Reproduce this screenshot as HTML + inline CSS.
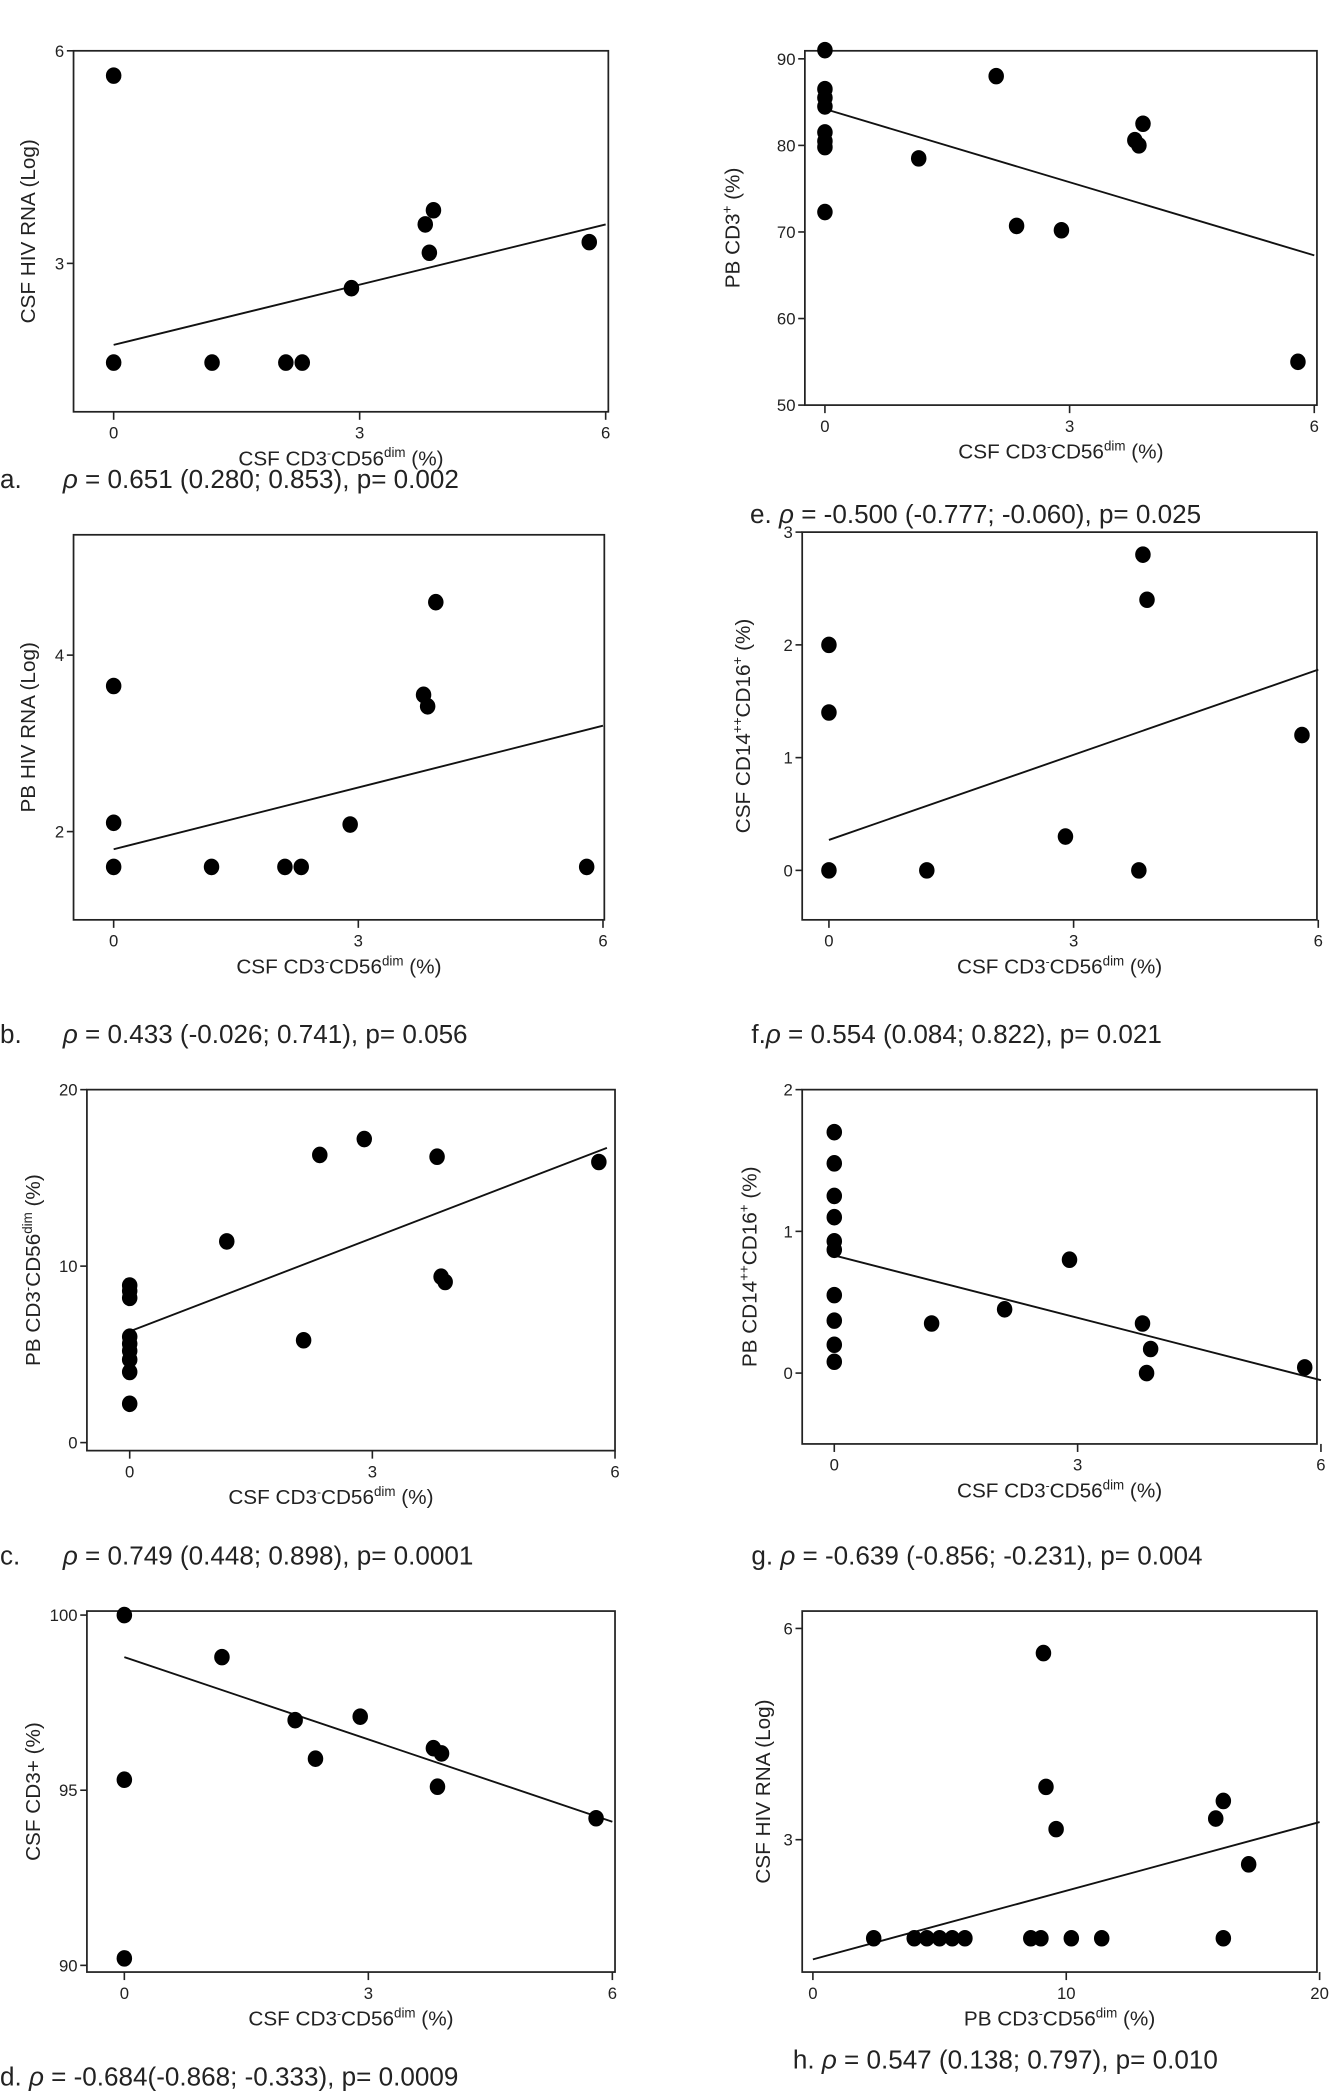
<!DOCTYPE html>
<html><head><meta charset="utf-8"><style>
html,body{margin:0;padding:0;background:#fff}
svg{display:block}
text{font-family:"Liberation Sans",sans-serif;fill:#222}
</style></head><body>
<svg id="fig" width="1337" height="2100" viewBox="0 0 1000 1570.7" xmlns="http://www.w3.org/2000/svg"></svg>
<script>
// Panel a
const aX=[0,0,1.2,2.1,2.3,2.9,3.8,3.9,3.85,5.8];
const aY=[5.65,1.6,1.6,1.6,1.6,2.65,3.55,3.75,3.15,3.3];
const aFit=[1.85,3.55];
// Panel e
const eX=[0,0,0,0,0,0,0,0,1.15,2.1,2.35,2.9,3.8,3.85,3.9,5.8];
const eY=[91,86.5,85.5,84.5,81.5,80.5,79.8,72.3,78.5,88,70.7,70.2,80.6,80,82.5,55];
const eFit=[84.2,67.3];
// Panel b
const bX=[0,0,0,1.2,2.1,2.3,2.9,3.8,3.85,3.95,5.8];
const bY=[3.65,2.1,1.6,1.6,1.6,1.6,2.08,3.55,3.42,4.6,1.6];
const bFit=[1.8,3.2];
// Panel f
const fX=[0,0,0,1.2,2.9,3.8,3.85,3.9,5.8];
const fY=[2.0,1.4,0,0,0.3,0,2.8,2.4,1.2];
const fFit=[0.27,1.78];
// Panel c
const cX=[0,0,0,0,0,0,0,0,0,1.2,2.15,2.35,2.9,3.8,3.85,3.9,5.8];
const cY=[8.9,8.6,8.2,6,5.6,5.2,4.7,4,2.2,11.4,5.8,16.3,17.2,16.2,9.4,9.1,15.9];
const cFit=[6.3,16.7];
// Panel g
const gX=[0,0,0,0,0,0,0,0,0,0,1.2,2.1,2.9,3.8,3.9,3.85,5.8];
const gY=[1.7,1.48,1.25,1.1,0.93,0.87,0.55,0.37,0.2,0.08,0.35,0.45,0.8,0.35,0.17,0,0.04];
const gFit=[0.83,-0.05];
// Panel d
const dX=[0,0,0,1.2,2.1,2.35,2.9,3.8,3.9,3.85,5.8];
const dY=[100,95.3,90.2,98.8,97,95.9,97.1,96.2,96.05,95.1,94.2];
const dFit=[98.8,94.1];
// Panel h
const hX=[2.4,4,4.5,5,5.5,6,8.6,9,10.2,11.4,16.2,9.1,9.2,9.6,15.9,16.2,17.2];
const hY=[1.6,1.6,1.6,1.6,1.6,1.6,1.6,1.6,1.6,1.6,1.6,5.65,3.75,3.15,3.3,3.55,2.65];
const hFit=[1.3,3.25];
const xTicksA=["0","3","6"], xTicksH=["0","10","20"];

const svg=document.getElementById('fig');
const NS='http://www.w3.org/2000/svg';
function el(t,a,p){const e=document.createElementNS(NS,t);for(const k in a)e.setAttribute(k,a[k]);(p||svg).appendChild(e);return e;}

function panel(cfg){
  const g=el('g',{});
  
  
  const sx=v=>cfg.px0+(v-cfg.x0)*(cfg.px1-cfg.px0)/(cfg.x1-cfg.x0);
  const sy=v=>cfg.py0+(v-cfg.y0)*(cfg.py1-cfg.py0)/(cfg.y1-cfg.y0);
  const fr=el('rect',{x:cfg.bx,y:cfg.by,width:cfg.bw,height:cfg.bh,fill:'none',stroke:'#222','stroke-width':1.3},g);
  
  
  cfg.xt.forEach((t,i)=>{const x=sx(cfg.xv[i]);
    el('line',{x1:x,x2:x,y1:cfg.by+cfg.bh,y2:cfg.by+cfg.bh+6,stroke:'#222','stroke-width':1.2},g);
    const tx=el('text',{x:x,y:cfg.by+cfg.bh+20,'font-size':12.5,'text-anchor':'middle'},g);tx.textContent=t;
    
    });
  cfg.yt.forEach(v=>{const y=sy(v);
    el('line',{x1:cfg.bx-5,x2:cfg.bx,y1:y,y2:y,stroke:'#222','stroke-width':1.2},g);
    const tx=el('text',{x:cfg.bx-7,y:y+4.5,'font-size':12.5,'text-anchor':'end'},g);tx.textContent=v;
    
    });
  const xl=el('text',{x:cfg.bx+cfg.bw/2+cfg.xlo,y:cfg.by+cfg.bh+40,'font-size':15.5,'text-anchor':'middle'},g);
  xl.innerHTML=cfg.xlab;
  
  
  const yc=cfg.by+cfg.bh/2;
  const yl=el('text',{x:cfg.ylx,y:yc,'font-size':15.5,'text-anchor':'middle',transform:`rotate(-90 ${cfg.ylx} ${yc})`},g);
  yl.innerHTML=cfg.ylab;
  
  
  const ln=el('line',{x1:sx(0),y1:sy(cfg.fit[0]),x2:sx(cfg.fitX),y2:sy(cfg.fit[1]),stroke:'#111','stroke-width':1.4},g);
  
  
  cfg.X.forEach((x,i)=>{const c=el('ellipse',{cx:sx(x),cy:sy(cfg.Y[i]),rx:5.8,ry:6.2,fill:'#000'},g);
    
    });
  const cap=el('text',{x:cfg.capx,y:cfg.capy,'font-size':19.5},g);
  cap.innerHTML=cfg.cap;
  
  
}
const XL='CSF CD3<tspan font-size="9" dy="-6">-</tspan><tspan dy="6">CD56</tspan><tspan font-size="10" dy="-6">dim</tspan><tspan dy="6"> (%)</tspan>';
const R='<tspan font-style="italic">ρ</tspan>';
panel({id:'a',X:aX,Y:aY,fit:aFit,fitX:6,x0:0,x1:6,px0:85,px1:453,y0:6,y1:3,py0:38,py1:197,bx:55,by:38,bw:400,bh:270,
 xt:xTicksA,xv:[0,3,6],yt:[6,3],xlab:XL,xlo:0,ylab:'CSF HIV RNA (Log)',ylx:26,cap:'a.<tspan x="47">'+R+' = 0.651 (0.280; 0.853), p= 0.002</tspan>',capx:0,capy:365});
panel({id:'e',X:eX,Y:eY,fit:eFit,fitX:6,x0:0,x1:6,px0:617,px1:983,y0:90,y1:50,py0:44,py1:303,bx:602,by:38,bw:383,bh:265,
 xt:xTicksA,xv:[0,3,6],yt:[90,80,70,60,50],xlab:XL,xlo:0,ylab:'PB CD3<tspan font-size="10" dy="-6">+</tspan><tspan dy="6"> (%)</tspan>',ylx:553,cap:'e.  '+R+' = -0.500 (-0.777; -0.060), p= 0.025',capx:561,capy:391});
panel({id:'b',X:bX,Y:bY,fit:bFit,fitX:6,x0:0,x1:6,px0:85,px1:451,y0:4,y1:2,py0:490,py1:622,bx:55,by:400,bw:397,bh:288,
 xt:xTicksA,xv:[0,3,6],yt:[4,2],xlab:XL,xlo:0,ylab:'PB HIV RNA (Log)',ylx:26,cap:'b.<tspan x="47">'+R+' = 0.433 (-0.026; 0.741), p= 0.056</tspan>',capx:0,capy:780});
panel({id:'f',X:fX,Y:fY,fit:fFit,fitX:6,x0:0,x1:6,px0:620,px1:986,y0:3,y1:0,py0:398,py1:651,bx:600,by:398,bw:385,bh:290,
 xt:xTicksA,xv:[0,3,6],yt:[3,2,1,0],xlab:XL,xlo:0,ylab:'CSF CD14<tspan font-size="10" dy="-6">++</tspan><tspan dy="6">CD16</tspan><tspan font-size="10" dy="-6">+</tspan><tspan dy="6"> (%)</tspan>',ylx:561,cap:'f.'+R+' = 0.554 (0.084; 0.822), p= 0.021',capx:562,capy:780});
panel({id:'c',X:cX,Y:cY,fit:cFit,fitX:5.9,x0:0,x1:6,px0:97,px1:460,y0:20,y1:0,py0:815,py1:1079,bx:65,by:815,bw:395,bh:270,
 xt:xTicksA,xv:[0,3,6],yt:[20,10,0],xlab:XL,xlo:-15,ylab:'PB CD3<tspan font-size="10" dy="-6">-</tspan><tspan dy="6">CD56</tspan><tspan font-size="10" dy="-6">dim</tspan><tspan dy="6"> (%)</tspan>',ylx:30,cap:'c.<tspan x="47">'+R+' = 0.749 (0.448; 0.898), p= 0.0001</tspan>',capx:0,capy:1170});
panel({id:'g',X:gX,Y:gY,fit:gFit,fitX:6,x0:0,x1:6,px0:624,px1:988,y0:2,y1:0,py0:815,py1:1027,bx:600,by:815,bw:385,bh:265,
 xt:xTicksA,xv:[0,3,6],yt:[2,1,0],xlab:XL,xlo:0,ylab:'PB CD14<tspan font-size="10" dy="-6">++</tspan><tspan dy="6">CD16</tspan><tspan font-size="10" dy="-6">+</tspan><tspan dy="6"> (%)</tspan>',ylx:566,cap:'g. '+R+' = -0.639 (-0.856; -0.231), p= 0.004',capx:562,capy:1170});
panel({id:'d',X:dX,Y:dY,fit:dFit,fitX:6,x0:0,x1:6,px0:93,px1:458,y0:100,y1:90,py0:1208,py1:1470,bx:65,by:1205,bw:395,bh:270,
 xt:xTicksA,xv:[0,3,6],yt:[100,95,90],xlab:XL,xlo:0,ylab:'CSF CD3+ (%)',ylx:30,cap:'d.  '+R+' = -0.684(-0.868; -0.333), p= 0.0009',capx:0,capy:1560});
panel({id:'h',X:hX,Y:hY,fit:hFit,fitX:20,x0:0,x1:20,px0:608,px1:987,y0:6,y1:3,py0:1218,py1:1376,bx:600,by:1205,bw:385,bh:270,
 xt:xTicksH,xv:[0,10,20],yt:[6,3],xlab:'PB CD3<tspan font-size="9" dy="-6">-</tspan><tspan dy="6">CD56</tspan><tspan font-size="10" dy="-6">dim</tspan><tspan dy="6"> (%)</tspan>',xlo:0,ylab:'CSF HIV RNA (Log)',ylx:576,cap:'h. '+R+' = 0.547 (0.138; 0.797), p= 0.010',capx:593,capy:1547});
</script>
</body></html>
